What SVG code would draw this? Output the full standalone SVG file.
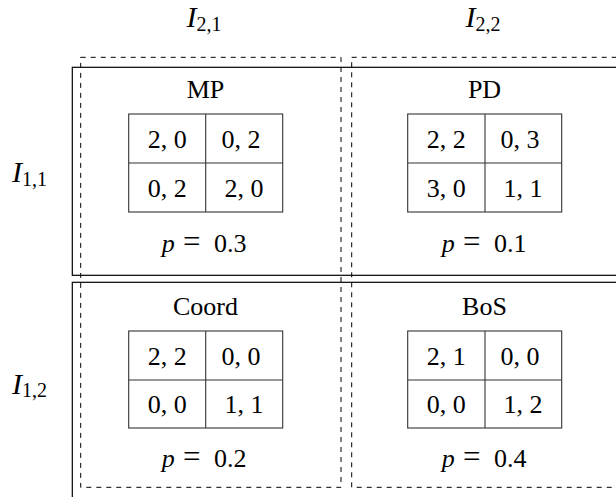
<svg xmlns="http://www.w3.org/2000/svg" width="616" height="497" viewBox="0 0 616 497">
<style>
text{font-family:"Liberation Serif","Times New Roman",serif;fill:#000}
.lab{font-size:30px;font-style:italic}
.sub{font-size:20px;font-style:normal}
.title{font-size:26px;text-anchor:middle}
.cell{font-size:26px;text-anchor:middle}
.p{font-size:26px}
.pi{font-style:italic}
.eq{font-size:31px}
.row{fill:none;stroke:#000;stroke-width:1.2}
.col{fill:none;stroke:#000;stroke-width:1;stroke-dasharray:5 5}
.tbl{fill:none;stroke:#333;stroke-width:1.1}
</style>
<rect width="616" height="497" fill="#fff"/>
<g id="connectors"></g>
<g id="row-I11">
<rect class="row" x="72.3" y="67.3" width="560" height="208"/>
<text class="lab" x="12" y="182">I<tspan class="sub" dy="3.5">1,1</tspan></text>
</g>
<g id="row-I12">
<rect class="row" x="72.3" y="282.3" width="560" height="230"/>
<text class="lab" x="12" y="393.5">I<tspan class="sub" dy="3.5">1,2</tspan></text>
</g>
<g id="col-I21">
<rect class="col" x="80.7" y="57.3" width="260.3" height="430"/>
<text class="lab" x="186.5" y="27">I<tspan class="sub" dy="3.5">2,1</tspan></text>
</g>
<g id="col-I22">
<rect class="col" x="351.7" y="57.3" width="280" height="430"/>
<text class="lab" x="465.5" y="27">I<tspan class="sub" dy="3.5">2,2</tspan></text>
</g>
<g id="node-MP">
<text class="title" x="205.5" y="98.3">MP</text>
<rect class="tbl" x="128.7" y="114" width="154" height="98"/>
<line class="tbl" x1="205.7" y1="114" x2="205.7" y2="212"/>
<line class="tbl" x1="128.7" y1="163" x2="282.7" y2="163"/>
<text class="cell" x="167.2" y="148">2, 0</text>
<text class="cell" x="241" y="148">0, 2</text>
<text class="cell" x="167.2" y="196.5">0, 2</text>
<text class="cell" x="244" y="196.5">2, 0</text>
<text class="p" y="251.7"><tspan class="pi" x="161.7">p</tspan><tspan class="eq" x="183">=</tspan><tspan x="214">0.3</tspan></text>
</g>
<g id="node-PD">
<text class="title" x="484.5" y="98.3">PD</text>
<rect class="tbl" x="407.7" y="114" width="154" height="98"/>
<line class="tbl" x1="485" y1="114" x2="485" y2="212"/>
<line class="tbl" x1="407.7" y1="163" x2="561.7" y2="163"/>
<text class="cell" x="446.3" y="148">2, 2</text>
<text class="cell" x="520" y="148">0, 3</text>
<text class="cell" x="446.3" y="196.5">3, 0</text>
<text class="cell" x="523" y="196.5">1, 1</text>
<text class="p" y="251.7"><tspan class="pi" x="441.7">p</tspan><tspan class="eq" x="463">=</tspan><tspan x="494">0.1</tspan></text>
</g>
<g id="node-Coord">
<text class="title" x="205.5" y="315">Coord</text>
<rect class="tbl" x="128.7" y="331" width="154" height="97"/>
<line class="tbl" x1="205.7" y1="331" x2="205.7" y2="428"/>
<line class="tbl" x1="128.7" y1="380" x2="282.7" y2="380"/>
<text class="cell" x="167.2" y="365">2, 2</text>
<text class="cell" x="241" y="365">0, 0</text>
<text class="cell" x="167.2" y="413">0, 0</text>
<text class="cell" x="244" y="413">1, 1</text>
<text class="p" y="466.7"><tspan class="pi" x="161.7">p</tspan><tspan class="eq" x="183">=</tspan><tspan x="214">0.2</tspan></text>
</g>
<g id="node-BoS">
<text class="title" x="484.5" y="315">BoS</text>
<rect class="tbl" x="407.7" y="331" width="154" height="97"/>
<line class="tbl" x1="485" y1="331" x2="485" y2="428"/>
<line class="tbl" x1="407.7" y1="380" x2="561.7" y2="380"/>
<text class="cell" x="446.3" y="365">2, 1</text>
<text class="cell" x="520" y="365">0, 0</text>
<text class="cell" x="446.3" y="413">0, 0</text>
<text class="cell" x="523" y="413">1, 2</text>
<text class="p" y="466.7"><tspan class="pi" x="441.7">p</tspan><tspan class="eq" x="463">=</tspan><tspan x="494">0.4</tspan></text>
</g>
</svg>
